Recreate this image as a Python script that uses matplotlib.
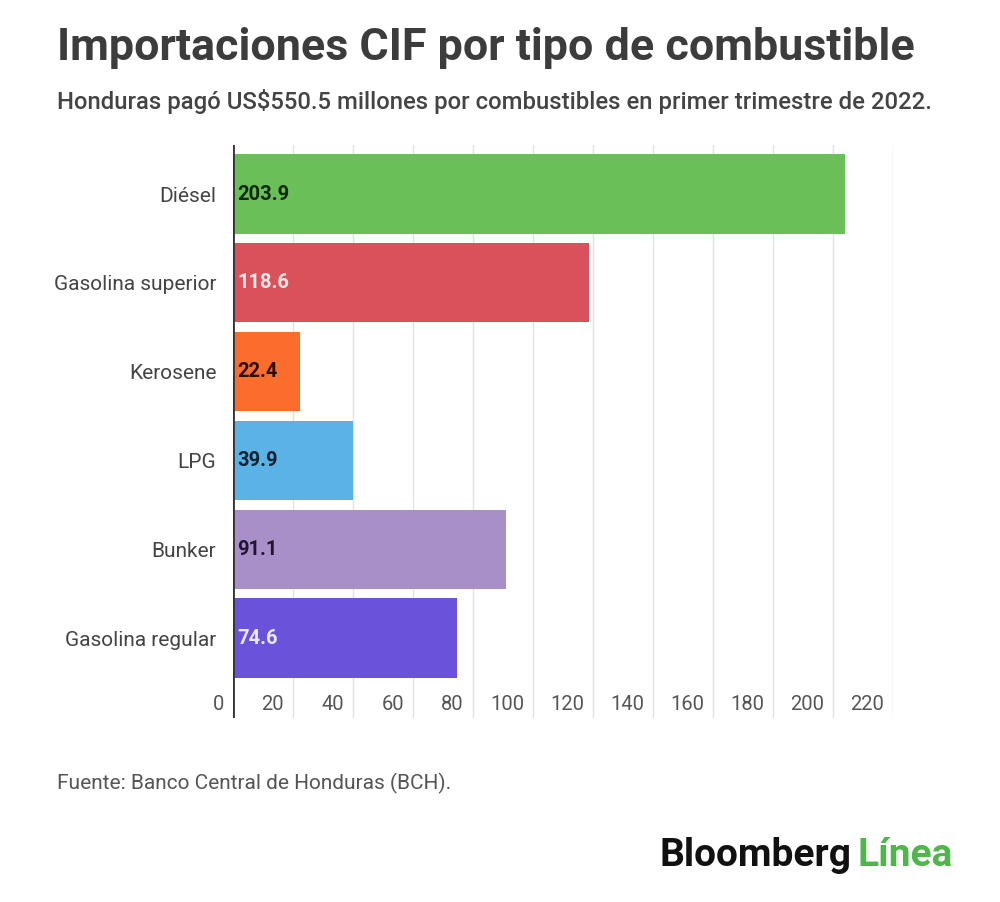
import matplotlib
matplotlib.use("Agg")
import matplotlib.pyplot as plt
from matplotlib import transforms

plt.rcParams['font.family'] = ['Roboto', 'DejaVu Sans']

categories = ["Diésel", "Gasolina superior", "Kerosene", "LPG", "Bunker", "Gasolina regular"]
values = [203.9, 118.6, 22.4, 39.9, 91.1, 74.6]
value_labels = ["203.9", "118.6", "22.4", "39.9", "91.1", "74.6"]
bar_colors = ["#6abf59", "#d9515a", "#fa6d2d", "#5ab3e4", "#a98fc7", "#6a52da"]
label_colors = ["#10280a", "#fbe6e8", "#2a0d00", "#0c2233", "#241433", "#ece6ff"]
xticks = [0, 20, 40, 60, 80, 100, 120, 140, 160, 180, 200, 220]

W, H = 1000, 902
fig = plt.figure(figsize=(W / 100, H / 100), dpi=100)
fig.patch.set_facecolor("white")

ax_left, ax_right = 233, 893
ax_top, ax_bot = 145, 718
ax = fig.add_axes([ax_left / W, 1 - ax_bot / H, (ax_right - ax_left) / W, (ax_bot - ax_top) / H])

pitch = 88.8
c0 = 194.0
ylo = 5 + (ax_bot - (c0 + 5 * pitch)) / pitch
yhi = -(c0 - ax_top) / pitch
ypos = list(range(len(categories)))

for x in xticks[1:]:
    ax.axvline(x, color="#e2e2e2", lw=1.0, zorder=0)

ax.barh(ypos, values, height=0.89, color=bar_colors, zorder=2)
ax.axvline(0, color="#333333", lw=2.0, zorder=3)

ax.set_xlim(0, 220)
ax.set_ylim(ylo, yhi)
for s in ax.spines.values():
    s.set_visible(False)
ax.set_xticks([])
ax.set_yticks(ypos)
ax.set_yticklabels(categories, fontsize=15, color="#444444")
ax.tick_params(axis="y", length=0, pad=12)

for y, v, lab, col in zip(ypos, values, value_labels, label_colors):
    ax.text(1.4, y, lab, ha="left", va="center", fontsize=14.5, fontweight="bold", color=col, zorder=4)

# x tick labels (right-aligned just left of each gridline, inside the plot area)
trans = transforms.blended_transform_factory(ax.transData, ax.transAxes) + \
    transforms.ScaledTranslation(-9 / 100, 0, fig.dpi_scale_trans)
ylab = (ax_bot - 705) / (ax_bot - ax_top)
for x in xticks:
    ax.text(x, ylab, str(x), transform=trans, ha="right", va="center", fontsize=14.5, color="#555555")

fig.text(57 / W, 1 - 48 / H, "Importaciones CIF por tipo de combustible", ha="left", va="center",
         fontsize=32.3, fontweight="bold", color="#3c3c3c")
fig.text(57 / W, 1 - 101 / H, "Honduras pagó US$550.5 millones por combustibles en primer trimestre de 2022.",
         ha="left", va="center", fontsize=17.2, fontweight="medium", color="#444444")
fig.text(57 / W, 1 - 783 / H, "Fuente: Banco Central de Honduras (BCH).", ha="left", va="center",
         fontsize=15, color="#555555")

fig.text(660 / W, 1 - 855 / H, "Bloomberg", ha="left", va="center", fontsize=28,
         fontweight="bold", color="#111111")
fig.text(858 / W, 1 - 855 / H, "Línea", ha="left", va="center", fontsize=28,
         fontweight="bold", color="#4db848")

fig.savefig("out.png", dpi=100, facecolor="white")
